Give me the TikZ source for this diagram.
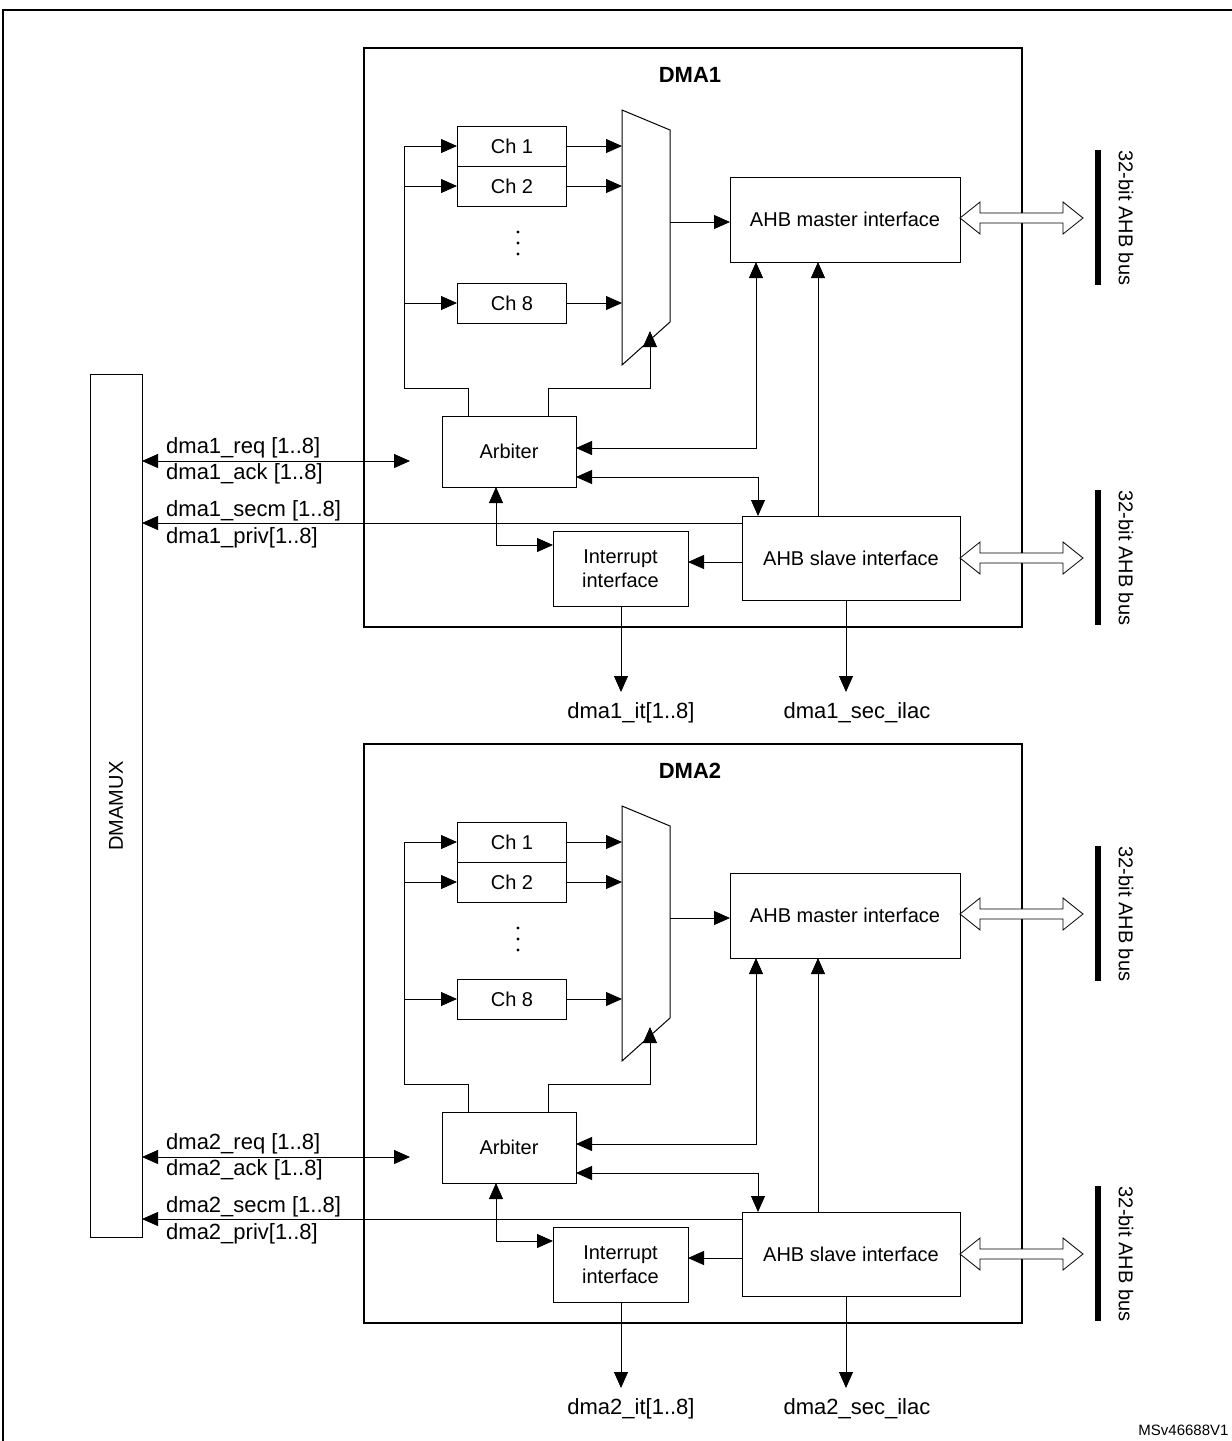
\documentclass[tikz,border=0pt]{standalone}
\usepackage{fontspec}
\setmainfont{Liberation Sans}
\usetikzlibrary{arrows.meta,positioning}
\tikzset{
  blk/.style = {draw, line width=1pt, align=center, inner sep=0pt},
  frame/.style = {draw, line width=1.8pt},
  sig/.style = {draw, line width=0.8pt, -{Triangle[length=16pt,width=14pt]}},
  sigb/.style = {sig, {Triangle[length=16pt,width=14pt]}-{Triangle[length=16pt,width=14pt]}},
  lbl/.style = {font=\fontsize{22}{24}\selectfont, inner sep=1pt},
  busbar/.style = {line width=6pt}
}
\begin{document}
\begin{tikzpicture}[x=1pt,y=-1pt, every node/.style={font=\fontsize{20}{24}\selectfont}]
\useasboundingbox (0,0) rectangle (1232,1441);
\draw[line width=1.2pt] (3,1441) -- (3,10) -- (1232,10);
% DMAMUX
\node[blk, minimum width=52pt, minimum height=863pt] (mux) at (116,806) {};
\node[rotate=90] at (mux) {DMAMUX};
\node[font=\fontsize{15}{16}\selectfont, anchor=east] (ref) at (1232,1430) {MSv46688V1};
\foreach \n/\dy in {1/0,2/696}{
\begin{scope}[yshift=-\dy]
  \draw[frame] (364,48) rectangle (1022,627);
  \node[font=\bfseries\fontsize{22}{24}\selectfont] (t\n) at (690,75) {DMA\n};
  \node[blk, minimum width=109pt, minimum height=40pt] (cha\n) at (512,146) {Ch 1};
  \node[blk, minimum width=109pt, minimum height=40pt] (chb\n) at (512,186) {Ch 2};
  \node[blk, minimum width=109pt, minimum height=40pt] (chh\n) at (512,303) {Ch 8};
  \foreach \yy in {232,243,254} \fill (518,\yy) circle (1.6pt);
  \draw[line width=1pt] (622,110) -- (670,130) -- (670,322) -- (622,365) -- cycle;
  \coordinate (mout\n) at (670,222);
  \node[blk, minimum width=230pt, minimum height=85pt] (mst\n) at (845,219.5) {AHB master interface};
  \node[blk, minimum width=218pt, minimum height=84pt] (slv\n) at (851,558) {AHB slave interface};
  \node[blk, minimum width=135pt, minimum height=75pt] (irq\n) at (620.5,568.5) {Interrupt\\interface};
  \node[blk, minimum width=134pt, minimum height=71pt] (arb\n) at (509,451.5) {Arbiter};
  % channels to mux
  \foreach \c/\yy in {cha/146,chb/186,chh/303}{
    \draw[sig] (\c\n.east) -- (622,\yy);
    \draw[sig] (404,\yy) -- (\c\n.west);
  }
  \draw[line width=0.8pt] (404,146) -- (404,388) -- (468,388) -- (468,416);
  \draw[sig] (548,416) -- (548,388) -- (650,388) -- (650,331);
  \draw[sig] (mout\n) -- (730,222);
  % arbiter links
  \draw[sigb] (576,448) -- (756,448) -- (756,262);
  \draw[sigb] (576,477) -- (758,477) -- (758,516);
  \draw[sig] (818,516) -- (818,262);
  \draw[sig] (742,562) -- (688,562);
  \draw[sigb] (496,487) -- (496,545) -- (553,545);
  \draw[sig] (742,523) -- (142,523);
  \coordinate (req\n) at (410,461);
  \draw[sigb] (142,461) -- (req\n);
  \node[lbl, anchor=south west] (rq\n) at (165,459) {dma\n\_req [1..8]};
  \node[lbl, anchor=north west] (ak\n) at (165,462) {dma\n\_ack [1..8]};
  \node[lbl, anchor=south west] (sc\n) at (165,522) {dma\n\_secm [1..8]};
  \node[lbl, anchor=north west] (pv\n) at (165,526) {dma\n\_priv[1..8]};
  % outputs
  \node[lbl] (it\n) at (631,713) {dma\n\_it[1..8]};
  \node[lbl] (il\n) at (857,713) {dma\n\_sec\_ilac};
  \draw[sig] (621,606) -- (621,692);
  \draw[sig] (846,600) -- (846,692);
  % buses
  \foreach \yy in {218,558}{
    \draw[line width=0.8pt, fill=white] (960,\yy) -- (980,\yy-16) -- (980,\yy-5) -- (1063,\yy-5)
      -- (1063,\yy-16) -- (1083,\yy) -- (1063,\yy+16) -- (1063,\yy+5) -- (980,\yy+5)
      -- (980,\yy+16) -- cycle;
    \draw[busbar] (1098,\yy-68) -- (1098,\yy+67);
    \node[rotate=-90] at (1126,\yy) {32-bit AHB bus};
  }
\end{scope}
}
\end{tikzpicture}
\end{document}
